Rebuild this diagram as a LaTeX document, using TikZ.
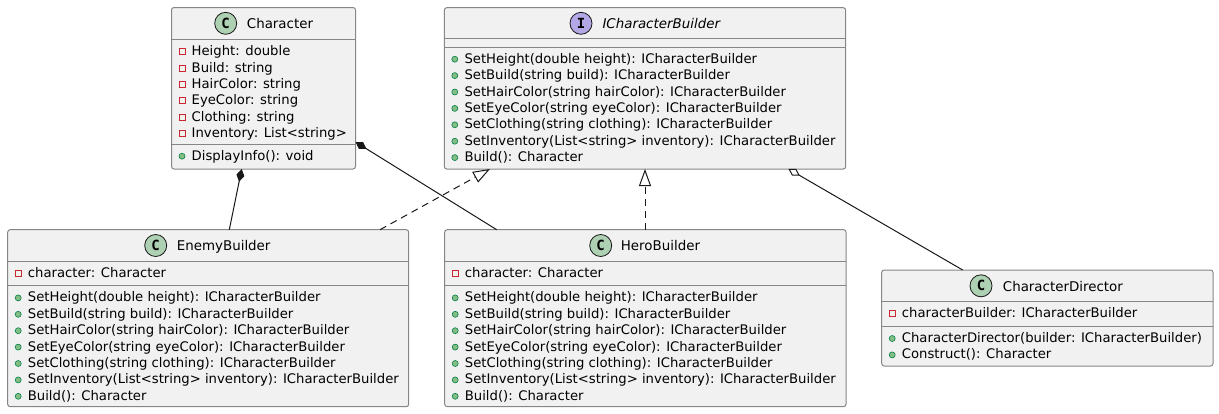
\documentclass[tikz,border=0pt]{standalone}
\usepackage{fontspec}
\setmainfont{DejaVu Sans}
\setmonofont{DejaVu Sans Mono}
\usetikzlibrary{arrows.meta}

\definecolor{boxfill}{HTML}{F1F1F1}
\definecolor{boxline}{HTML}{868686}
\definecolor{linecol}{HTML}{181818}
\definecolor{classgreen}{HTML}{ADD1B2}
\definecolor{ifacepurple}{HTML}{B4A7E5}
\definecolor{privred}{HTML}{C82930}
\definecolor{pubgreen}{HTML}{84BE84}
\definecolor{pubdark}{HTML}{038048}

\tikzset{
  umlbox/.style={draw=boxline, fill=boxfill, line width=1pt, rounded corners=2.5pt,
    anchor=north west, inner sep=0pt, outer sep=0pt},
  sepline/.style={draw=boxline, line width=1pt},
  mem/.style={anchor=base west, inner sep=0pt, font=\fontsize{13.2}{16}\selectfont},
  title/.style={anchor=base west, inner sep=0pt, font=\fontsize{13.4}{16}\selectfont},
  classmark/.style={circle, draw=linecol, line width=0.8pt, fill=classgreen,
    minimum size=22pt, inner sep=0pt, font=\fontsize{14}{14}\ttfamily\bfseries},
  ifacemark/.style={classmark, fill=ifacepurple},
  visPriv/.style={rectangle, draw=privred, line width=0.9pt, minimum size=6pt, inner sep=0pt},
  visPub/.style={circle, draw=pubdark, fill=pubgreen, line width=0.6pt, minimum size=6pt, inner sep=0pt},
  link/.style={draw=linecol, line width=1pt},
  composition/.style={link, {Diamond[length=13pt,width=8pt,fill=linecol]}-},
  aggregation/.style={link, {Diamond[open,length=13pt,width=8pt]}-},
  realization/.style={link, dash pattern=on 7pt off 5pt,
    -{Triangle[open,length=17pt,width=12pt]}},
}

% one member per line: icon, then text; #1 prefix, #2 left x, #3 first baseline, #4 list macro
\newcommand\memberlist[4]{%
  \foreach \vis/\txt [count=\k] in #4 {
    \node[\vis] (#1-v\k) at (#2+10.5, #3+16.4*\k-16.4-4) {};
    \node[mem] (#1-m\k) at (#2+20, #3+16.4*\k-16.4) {\txt};
  }%
}

\def\charattrs{visPriv/Height: double, visPriv/Build: string, visPriv/HairColor: string,
  visPriv/EyeColor: string, visPriv/Clothing: string, visPriv/Inventory: List<string>}
\def\charmethods{visPub/DisplayInfo(): void}
\def\buildermethods{visPub/SetHeight(double height): ICharacterBuilder,
  visPub/SetBuild(string build): ICharacterBuilder,
  visPub/SetHairColor(string hairColor): ICharacterBuilder,
  visPub/SetEyeColor(string eyeColor): ICharacterBuilder,
  visPub/SetClothing(string clothing): ICharacterBuilder,
  visPub/SetInventory(List<string> inventory): ICharacterBuilder,
  visPub/Build(): Character}
\def\builderattrs{visPriv/character: Character}
\def\dirattrs{visPriv/characterBuilder: ICharacterBuilder}
\def\dirmethods{visPub/CharacterDirector(builder: ICharacterBuilder),
  visPub/Construct(): Character}

\begin{document}
\begin{tikzpicture}[x=1pt, y=-1pt]
  \useasboundingbox (0,0) rectangle (1219,413);

  % Character
  \node[umlbox, minimum width=184pt, minimum height=161.5pt] (char) at (171.5,7.5) {};
  \draw[sepline] (char.west |- 0,39.5) -- (char.east |- 0,39.5);
  \draw[sepline] (char.west |- 0,144) -- (char.east |- 0,144);
  \node[classmark] (char-c) at (225.7,23.3) {C};
  \node[title] (char-n) at (246.7,28.5) {Character};
  \memberlist{char-a}{171.5}{55.7}{\charattrs}
  \memberlist{char-o}{171.5}{160.2}{\charmethods}

  % ICharacterBuilder
  \node[umlbox, minimum width=401.4pt, minimum height=161.3pt] (iface) at (444.3,7.7) {};
  \draw[sepline] (iface.west |- 0,38.7) -- (iface.east |- 0,38.7);
  \draw[sepline] (iface.west |- 0,47) -- (iface.east |- 0,47);
  \node[ifacemark] (iface-c) at (581,23.3) {I};
  \node[title, font=\fontsize{13.4}{16}\selectfont\itshape] (iface-n) at (602.3,28.5) {ICharacterBuilder};
  \memberlist{iface-o}{444.3}{63.2}{\buildermethods}

  % EnemyBuilder
  \node[umlbox, minimum width=401pt, minimum height=177pt] (enemy) at (7.7,229.7) {};
  \draw[sepline] (enemy.west |- 0,261) -- (enemy.east |- 0,261);
  \draw[sepline] (enemy.west |- 0,285.7) -- (enemy.east |- 0,285.7);
  \node[classmark] (enemy-c) at (155.7,245.5) {C};
  \node[title] (enemy-n) at (176.7,250.7) {EnemyBuilder};
  \memberlist{enemy-a}{7.7}{277.2}{\builderattrs}
  \memberlist{enemy-o}{7.7}{301.9}{\buildermethods}

  % HeroBuilder
  \node[umlbox, minimum width=401.3pt, minimum height=177pt] (hero) at (444.7,229.7) {};
  \draw[sepline] (hero.west |- 0,261) -- (hero.east |- 0,261);
  \draw[sepline] (hero.west |- 0,285.7) -- (hero.east |- 0,285.7);
  \node[classmark] (hero-c) at (600.7,245.5) {C};
  \node[title] (hero-n) at (620.7,250.7) {HeroBuilder};
  \memberlist{hero-a}{444.7}{277.2}{\builderattrs}
  \memberlist{hero-o}{444.7}{301.9}{\buildermethods}

  % CharacterDirector
  \node[umlbox, minimum width=331.3pt, minimum height=96pt] (dir) at (881.7,270) {};
  \draw[sepline] (dir.west |- 0,301.5) -- (dir.east |- 0,301.5);
  \draw[sepline] (dir.west |- 0,326.3) -- (dir.east |- 0,326.3);
  \node[classmark] (dir-c) at (981,285.8) {C};
  \node[title] (dir-n) at (1002.7,291) {CharacterDirector};
  \memberlist{dir-a}{881.7}{317.7}{\dirattrs}
  \memberlist{dir-o}{881.7}{342.5}{\dirmethods}

  % relations
  \draw[composition] ([xshift=70.2pt]char.south west) -- ([xshift=221.6pt]enemy.north west);
  \draw[composition] ([yshift=-134.5pt]char.north east) -- ([xshift=52pt]hero.north west);
  \draw[realization] ([xshift=372.3pt]enemy.north west) -- ([xshift=45.7pt]iface.south west);
  \draw[realization] ([xshift=200.3pt]hero.north west) -- ([xshift=200.7pt]iface.south west);
  \draw[aggregation] ([xshift=344.2pt]iface.south west) -- ([xshift=81pt]dir.north west);
\end{tikzpicture}
\end{document}
